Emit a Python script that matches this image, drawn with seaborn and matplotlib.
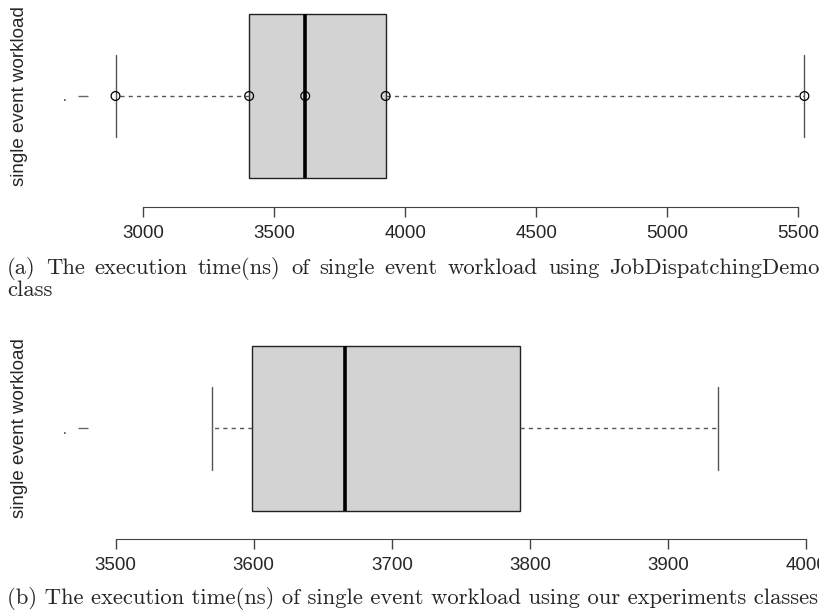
import numpy as np
import matplotlib.pyplot as plt
import seaborn as sns

# execution times (ns)
demo_times = [2894, 3404, 3618, 3925, 5523]   # JobDispatchingDemo run
ours_times = [3570, 3599, 3666, 3793, 3936]   # our experiment classes
demo_ticks = [3000, 3500, 4000, 4500, 5000, 5500]
ours_ticks = [3500, 3600, 3700, 3800, 3900, 4000]
demo_xlim = [2789, 5636]
ours_xlim = [3480, 4020]
ylabel = "single event workload"
caption_a = ["(a) The execution time(ns) of single event workload using JobDispatchingDemo",
             "class"]
caption_b = "(b) The execution time(ns) of single event workload using our experiments classes"

sns.set_style("ticks")
plt.rcParams["font.family"] = ["Liberation Sans", "DejaVu Sans"]

fig = plt.figure(figsize=(8.2, 6.14), dpi=100)
ax1 = fig.add_axes([0.1073, 0.6759, 0.9098, 0.3355])
ax2 = fig.add_axes([0.1073, 0.1344, 0.9098, 0.3355])

box_kw = dict(orient="h", width=0.8, whis=(0, 100), color="#d3d3d3", saturation=1,
              linecolor="#222222", linewidth=1.0, showfliers=False,
              medianprops=dict(color="black", linewidth=2.6),
              whiskerprops=dict(linestyle=(0, (3, 3)), color="#555555", linewidth=1.0),
              capprops=dict(color="#555555", linewidth=1.0))

sns.boxplot(x=demo_times, ax=ax1, **box_kw)
sns.scatterplot(x=demo_times, y=[0] * len(demo_times), ax=ax1, marker="o", s=40,
                facecolor="none", edgecolor="black", linewidth=0.9, zorder=5)
sns.boxplot(x=ours_times, ax=ax2, **box_kw)

for ax, ticks, lim in [(ax1, demo_ticks, demo_xlim), (ax2, ours_ticks, ours_xlim)]:
    ax.set_xlim(lim)
    ax.set_ylim(0.5, -0.5)
    ax.set_xticks(ticks)
    ax.set_xticklabels([str(t) for t in ticks])
    for side in ["top", "right", "left"]:
        ax.spines[side].set_visible(False)
    ax.spines["bottom"].set_bounds(ticks[0], ticks[-1])
    ax.spines["bottom"].set_position(("outward", 5.5))
    ax.spines["bottom"].set_color("#444444")
    ax.tick_params(axis="x", length=7.2, width=1, color="#444444", labelsize=13.5, pad=6)
    ax.set_yticks([0])
    ax.set_yticklabels(["."], fontsize=10)
    ax.tick_params(axis="y", length=7.2, width=1, color="#666666", pad=8)
    ax.set_ylabel(ylabel, fontsize=13.5)
    ax.yaxis.set_label_coords(-0.080, 0.5)
    ax.set_xlabel("")

cap_font = dict(family="cmr10", fontsize=16.3, va="baseline")

# first caption line is justified across the text width, like LaTeX does
renderer = fig.canvas.get_renderer()
words = caption_a[0].split(" ")
word_texts = [fig.text(0, 1 - 274 / 614, w, **cap_font) for w in words]
widths = [t.get_window_extent(renderer).width for t in word_texts]
gap = (813 - sum(widths)) / (len(words) - 1)
x = 7
for t, w in zip(word_texts, widths):
    t.set_x(x / 820)
    x += w + gap

fig.text(7 / 820, 1 - 296 / 614, caption_a[1], **cap_font)
fig.text(7 / 820, 1 - 604 / 614, caption_b, **cap_font)

fig.savefig("out.png", dpi=100)
